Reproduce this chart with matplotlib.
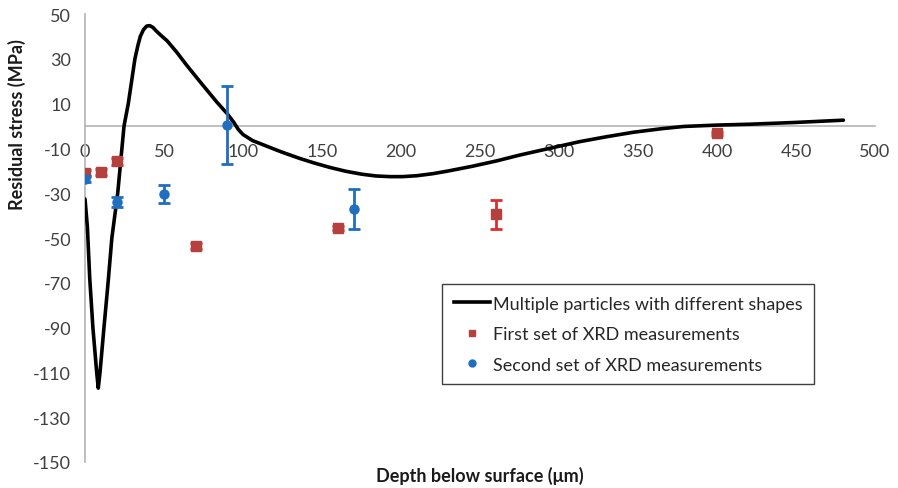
import matplotlib
matplotlib.use("Agg")
import matplotlib.pyplot as plt
from matplotlib.lines import Line2D

# Simulated curve: multiple particles with different shapes
curve_x = [0, 1.5, 3, 5, 7.4, 8.4, 9.5, 12, 14.6, 17, 20.7, 24.7, 27.4, 29.5, 31.6, 33.5, 35, 37, 39, 41, 43,
           45, 48, 52, 58, 64.5, 73, 83.4, 90, 94, 97, 100, 106, 115, 124, 136, 145, 155, 165, 175, 184, 193,
           201, 210, 220, 229, 245, 261, 275, 292, 313, 330, 347, 365, 379, 400, 421, 450, 480]
curve_y = [-32.6, -45, -68, -90, -110, -117, -110, -90, -70, -50, -30, 0, 10, 20, 30, 36, 40, 43, 44.6, 44.8, 44,
           42.5, 40.5, 38, 33, 27, 19.6, 10.7, 5.5, 1.8, -1.5, -3.8, -6.5, -9, -11.5, -14.5, -16.5, -18.5, -20.2,
           -21.5, -22.3, -22.6, -22.6, -22.2, -21.3, -20.2, -18, -15.5, -13, -10.3, -7, -4.8, -2.8, -1.2, -0.2,
           0.4, 0.8, 1.6, 2.6]

# First set of XRD measurements
first_x = [0, 10, 20, 70, 160, 260, 400]
first_y = [-21, -20.5, -15.7, -53.6, -45.5, -39.5, -3.3]
first_err = [1.5, 1.5, 1.5, 1.5, 1, 6.5, 0.5]

# Second set of XRD measurements
second_x = [0, 20, 50, 90, 170]
second_y = [-23.7, -34, -30.4, 0.5, -37]
second_err = [1.5, 2.2, 4, 17.5, 9]

x_ticks = [0, 50, 100, 150, 200, 250, 300, 350, 400, 450, 500]
y_ticks = [-150, -130, -110, -90, -70, -50, -30, -10, 10, 30, 50]

plt.rcParams['font.family'] = ['Lato', 'DejaVu Sans']
plt.rcParams['axes.unicode_minus'] = False

fig = plt.figure(figsize=(8.98, 4.89), dpi=100)
ax = fig.add_axes([85/898, 1-463/489, (875-85)/898, (463-15)/489])

red_marker = '#B5413F'
red_err = '#D9302C'
blue = '#1F6EBF'
axis_gray = '#B4B4B4'

ax.plot(curve_x, curve_y, color='black', lw=2.6, solid_capstyle='round', solid_joinstyle='round', zorder=3)
ax.errorbar(first_x, first_y, yerr=first_err, fmt='s', color=red_marker, ecolor=red_err,
            markersize=6.5, elinewidth=2, capsize=4, capthick=2, zorder=4)
ax.errorbar(second_x, second_y, yerr=second_err, fmt='o', color=blue, ecolor=blue,
            markersize=6.5, elinewidth=2, capsize=4, capthick=2, zorder=5)

ax.set_xlim(0, 500)
ax.set_ylim(-150, 50)
ax.set_xticks(x_ticks)
ax.set_yticks(y_ticks)
ax.tick_params(axis='both', length=0, labelsize=13, colors='#404040')
ax.tick_params(axis='x', pad=12)
ax.tick_params(axis='y', pad=10)

for s in ['top', 'right']:
    ax.spines[s].set_visible(False)
ax.spines['bottom'].set_position(('data', 0))
ax.spines['bottom'].set_color(axis_gray)
ax.spines['bottom'].set_linewidth(1.2)
ax.spines['left'].set_color(axis_gray)
ax.spines['left'].set_linewidth(1.2)
ax.patch.set_alpha(0)

fig.text(17/898, 1-125/489, 'Residual stress (MPa)', fontsize=13, fontweight='bold',
         rotation=90, ha='center', va='center', color='#1a1a1a')
fig.text(480/898, 1-476/489, 'Depth below surface (\u03bcm)', fontsize=13, fontweight='bold',
         ha='center', va='center', color='#1a1a1a')

handles = [
    Line2D([], [], color='black', lw=2.6),
    Line2D([], [], ls='none', marker='s', color=red_marker, markersize=5),
    Line2D([], [], ls='none', marker='o', color=blue, markersize=5),
]
labels = ['Multiple particles with different shapes', 'First set of XRD measurements',
          'Second set of XRD measurements']
leg = ax.legend(handles, labels, loc='upper left', bbox_to_anchor=((442-85)/790, 1-(285-15)/448),
                fontsize=13, frameon=True, fancybox=False, edgecolor='#404040', framealpha=1,
                handlelength=2.0, handletextpad=0.15, labelspacing=0.8, borderpad=0.65,
                borderaxespad=0)
leg.get_frame().set_linewidth(1.0)
for t in leg.get_texts():
    t.set_color('#262626')

fig.savefig('out.png', dpi=100)
